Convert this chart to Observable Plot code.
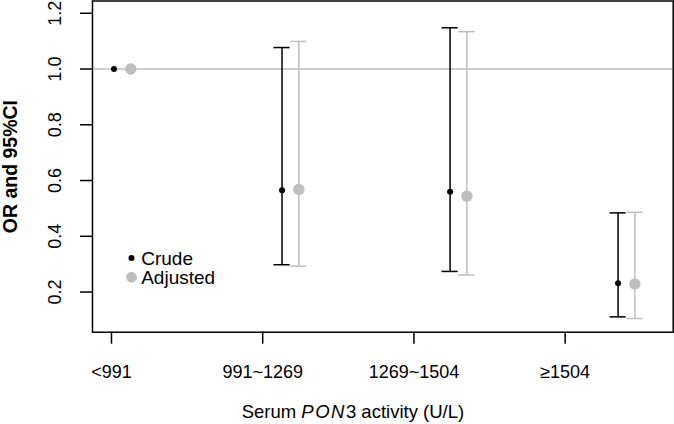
<!DOCTYPE html>
<html>
<head>
<meta charset="utf-8">
<script src="https://cdn.jsdelivr.net/npm/d3@7"></script>
<script src="https://cdn.jsdelivr.net/npm/@observablehq/plot@0.6"></script>
<style>
  html, body { margin: 0; padding: 0; background: #fff; }
  svg { display: block; }
</style>
</head>
<body>
<div id="chart"></div>
<script>
// ---- data ----
const categories = ["<991", "991~1269", "1269~1504", "≥1504"];
const crudeOR = [1.00, 0.565, 0.560, 0.232];
const crudeLo = [1.00, 0.298, 0.274, 0.111];
const crudeHi = [1.00, 1.077, 1.148, 0.484];
const adjOR   = [1.00, 0.568, 0.544, 0.229];
const adjLo   = [1.00, 0.293, 0.261, 0.105];
const adjHi   = [1.00, 1.099, 1.134, 0.486];
const yTicks  = [0.2, 0.4, 0.6, 0.8, 1.0, 1.2];
const xTickPos = [0.985, 1.885, 2.785, 3.685];
const legendLabels = ["Crude", "Adjusted"];

const GREY = "#bebebe";
const FONT = "'Liberation Sans', Arial, Helvetica, sans-serif";

const crude = categories.map((c, i) => ({x: i + 1, or: crudeOR[i], lo: crudeLo[i], hi: crudeHi[i]}));
const adj = categories.map((c, i) => ({x: i + 1.1, or: adjOR[i], lo: adjLo[i], hi: adjHi[i]}));
// zero-length intervals (reference group) draw no bars
const crudeCI = crude.filter(d => d.hi > d.lo);
const adjCI = adj.filter(d => d.hi > d.lo);
const capHalf = 0.048;

const chart = Plot.plot({
  width: 674,
  height: 424,
  marginLeft: 92,
  marginRight: 1.3,
  marginTop: 0.5,
  marginBottom: 92.3,
  style: {fontFamily: FONT, background: "#fff"},
  x: {type: "linear", domain: [0.872, 4.328]},
  y: {type: "linear", domain: [0.056, 1.244]},
  marks: [
    Plot.ruleY([1], {stroke: GREY, strokeWidth: 1.5}),
    // crude error bars
    Plot.ruleX(crudeCI, {x: "x", y1: "lo", y2: "hi", stroke: "black", strokeWidth: 1.5}),
    Plot.ruleY(crudeCI, {y: "lo", x1: d => d.x - capHalf, x2: d => d.x + capHalf, stroke: "black", strokeWidth: 1.5}),
    Plot.ruleY(crudeCI, {y: "hi", x1: d => d.x - capHalf, x2: d => d.x + capHalf, stroke: "black", strokeWidth: 1.5}),
    // adjusted error bars
    Plot.ruleX(adjCI, {x: "x", y1: "lo", y2: "hi", stroke: GREY, strokeWidth: 1.5}),
    Plot.ruleY(adjCI, {y: "lo", x1: d => d.x - capHalf, x2: d => d.x + capHalf, stroke: GREY, strokeWidth: 1.5}),
    Plot.ruleY(adjCI, {y: "hi", x1: d => d.x - capHalf, x2: d => d.x + capHalf, stroke: GREY, strokeWidth: 1.5}),
    // points
    Plot.dot(crude, {x: "x", y: "or", r: 3, fill: "black", stroke: "none"}),
    Plot.dot(adj, {x: "x", y: "or", r: 5.7, fill: GREY, stroke: "none"}),
    // frame
    Plot.frame({stroke: "black", strokeWidth: 1.5}),
    // axes (ticks only)
    Plot.axisX({ticks: xTickPos, tickSize: 12, tickFormat: () => "", label: null, stroke: "black", strokeWidth: 1.5}),
    Plot.axisY({ticks: yTicks, tickSize: 12, tickFormat: () => "", label: null, stroke: "black", strokeWidth: 1.5}),
    // x tick labels
    Plot.text(xTickPos, {x: d => d, text: (d, i) => categories[i], frameAnchor: "bottom", dy: 40, lineAnchor: "middle", fontSize: 18, fill: "black"}),
    // y tick labels
    Plot.text(yTicks, {y: d => d, text: d => d.toFixed(1), frameAnchor: "left", dx: -37, rotate: -90, lineAnchor: "middle", textAnchor: "middle", fontSize: 18, fill: "black"}),
    // y title
    Plot.text(["OR and 95%CI"], {frameAnchor: "left", dx: -82, rotate: -90, lineAnchor: "middle", textAnchor: "middle", fontSize: 19.5, fontWeight: "bold", fill: "black"}),
    // legend
    Plot.dot([legendLabels[0]], {frameAnchor: "top-left", dx: 39, dy: 257, r: 3, fill: "black"}),
    Plot.dot([legendLabels[1]], {frameAnchor: "top-left", dx: 39, dy: 276.2, r: 5.4, fill: GREY}),
    Plot.text([legendLabels[0]], {text: d => d, frameAnchor: "top-left", dx: 48.7, dy: 257.8, textAnchor: "start", lineAnchor: "middle", fontSize: 19, fill: "black"}),
    Plot.text([legendLabels[1]], {text: d => d, frameAnchor: "top-left", dx: 48.7, dy: 276.7, textAnchor: "start", lineAnchor: "middle", fontSize: 19, fill: "black"})
  ]
});

// x-axis title with italic gene symbol
const svg = d3.select(chart);
const t = svg.append("text")
  .attr("x", 241.7)
  .attr("y", 418)
  .attr("text-anchor", "start")
  .attr("font-family", FONT)
  .attr("font-size", 18.5)
  .attr("fill", "black");
t.append("tspan").text("Serum ");
t.append("tspan").attr("font-style", "italic").attr("letter-spacing", "1.5").text("PON");
t.append("tspan").text("3 activity (U/L)");

document.getElementById("chart").appendChild(chart);
</script>
</body>
</html>
